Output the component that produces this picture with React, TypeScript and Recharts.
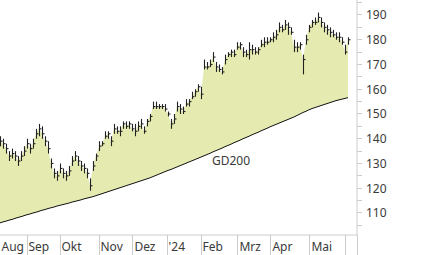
import { ComposedChart, Area, Line, Bar, XAxis, YAxis, ReferenceDot } from "recharts";

// one point roughly every two trading days, Aug 2023 - May 2024
const closes = [
  139, 138, 136, 133, 134, 133, 131, 133, 135, 138, 136, 138, 142, 144, 142, 139, 136, 130, 126, 125,
  128, 126, 125, 127, 131, 133, 131, 129, 128, 126, 121, 129, 133, 137, 138, 141, 142, 139, 144, 143,
  143, 146, 145, 146, 144, 143, 145, 146, 143, 147, 149, 153, 153, 153, 153, 152, 150, 146, 148, 153,
  152, 151, 154, 155, 157, 159, 161, 158, 169, 169, 170, 173, 169, 168, 167, 172, 174, 175, 174, 177,
  178, 175, 174, 176, 176, 175, 176, 178, 179, 179, 180, 181, 182, 185, 184, 186, 185, 183, 177, 177,
  178, 172, 180, 185, 187, 187, 189, 187, 185, 184, 183, 182, 181, 181, 179, 175, 180,
];
const highs = [
  141, 140, 138, 135, 136, 135, 133, 135, 137, 140, 138, 140, 144, 146, 145, 141, 139, 132, 128, 127,
  130, 128, 127, 129, 133, 135, 133, 131, 130, 128, 124, 131, 134, 139, 139, 143, 143, 141, 146, 145,
  145, 147, 147, 147, 146, 146, 147, 148, 145, 148, 150, 155, 155, 154, 154, 154, 151, 148, 150, 155,
  154, 153, 156, 156, 159, 160, 162, 161, 172, 171, 172, 175, 171, 170, 169, 174, 175, 176, 176, 179,
  179, 177, 176, 179, 178, 177, 177, 180, 181, 181, 181, 183, 184, 187, 186, 188, 187, 185, 180, 179,
  179, 174, 182, 186, 188, 189, 191, 189, 187, 186, 185, 184, 183, 183, 181, 178, 181,
];
const lows = [
  137, 136, 134, 131, 132, 131, 129, 131, 133, 136, 134, 136, 140, 141, 140, 137, 134, 128, 124, 123,
  126, 124, 123, 125, 129, 131, 129, 127, 126, 124, 119, 127, 131, 135, 137, 140, 140, 137, 142, 142,
  141, 144, 144, 144, 143, 141, 143, 144, 142, 145, 147, 152, 152, 152, 152, 151, 149, 144, 146, 151,
  150, 150, 153, 153, 156, 157, 159, 156, 168, 168, 169, 171, 167, 167, 166, 170, 173, 173, 173, 176,
  176, 173, 173, 172, 174, 174, 174, 177, 177, 178, 179, 179, 180, 183, 183, 184, 182, 182, 175, 175,
  176, 166, 178, 183, 185, 186, 187, 185, 183, 182, 181, 181, 180, 179, 178, 174, 178,
];
const gd200 = [
  106.0, 106.4, 106.7, 107.1, 107.4, 107.8, 108.2, 108.5, 108.9, 109.3, 109.6, 110.0, 110.3, 110.7, 111.1, 111.4, 111.8, 112.1, 112.4, 112.8,
  113.1, 113.4, 113.7, 114.0, 114.4, 114.7, 115.0, 115.3, 115.7, 116.0, 116.3, 116.6, 117.0, 117.4, 117.8, 118.2, 118.6, 119.0, 119.4, 119.8,
  120.2, 120.6, 121.0, 121.4, 121.8, 122.2, 122.6, 123.0, 123.4, 123.8, 124.2, 124.7, 125.2, 125.7, 126.2, 126.7, 127.2, 127.6, 128.1, 128.6,
  129.1, 129.6, 130.1, 130.6, 131.1, 131.6, 132.1, 132.6, 133.1, 133.6, 134.1, 134.7, 135.2, 135.7, 136.2, 136.8, 137.3, 137.8, 138.4, 138.9,
  139.4, 140.0, 140.5, 141.0, 141.6, 142.1, 142.6, 143.2, 143.7, 144.2, 144.8, 145.3, 145.8, 146.3, 146.8, 147.3, 147.8, 148.3, 148.8, 149.4,
  150.0, 150.6, 151.1, 151.7, 152.2, 152.6, 153.0, 153.4, 153.8, 154.2, 154.6, 155.0, 155.4, 155.7, 156.0, 156.3, 156.6,
];

const monthTicks = [0, 9, 20, 33, 44.3, 55.7, 67, 79.3, 90.3, 103.3, 115.3, 119];
const monthLabels = ["Aug", "Sep", "Okt", "Nov", "Dez", "'24", "Feb", "Mrz", "Apr", "Mai", "", ""];
const priceTicks = [105, 110, 115, 120, 125, 130, 135, 140, 145, 150, 155, 160, 165, 170, 175, 180, 185, 190, 195];

const data = closes.map((c, i) => ({
  i,
  close: c,
  high: highs[i],
  low: lows[i],
  gd: gd200[i],
  band: [gd200[i], c],
  range: [lows[i], highs[i]],
}));

const font = "'Noto Sans', sans-serif";
const textColor = "#3a3a3a";
const gridColor = "#cccccc";

function MonthTick(props: any) {
  const { x, y, index } = props;
  const label = monthLabels[index] ?? "";
  return (
    <g>
      {index > 0 && <line x1={x} x2={x} y1={y} y2={y + 20} stroke={gridColor} shapeRendering="crispEdges" />}
      <text x={Math.max(x + 1.5, 1.5)} y={y + 16} fontSize={12} fontFamily={font} fill={textColor}>
        {label}
      </text>
    </g>
  );
}

function PriceTick(props: any) {
  const { x, y, payload } = props;
  const v = payload.value;
  return (
    <g>
      <line x1={x} x2={x + 5} y1={y} y2={y} stroke={gridColor} shapeRendering="crispEdges" />
      {v % 10 === 0 && (
        <text x={x + 9} y={y + 4.5} fontSize={12} fontFamily={font} fill={textColor}>
          {v}
        </text>
      )}
    </g>
  );
}

function OhlcBar(props: any) {
  const { x, y, width, height, payload } = props;
  if (height == null) return null;
  const cx = Math.round(x + width / 2) + 0.5;
  const span = payload.high - payload.low;
  const cy = y + ((payload.high - payload.close) / span) * height;
  return (
    <g stroke="#222" strokeWidth={1.1}>
      <line x1={cx} x2={cx} y1={y} y2={y + height} />
      <line x1={cx} x2={cx + 2} y1={cy} y2={cy} />
    </g>
  );
}

export default function App() {
  return (
    <div style={{ position: "absolute", left: 0, top: 0, width: 426, height: 255, background: "#fff" }}>
      <ComposedChart width={426} height={255} data={data} margin={{ top: 0, right: 0, bottom: 0, left: 0 }}>
        <XAxis
          dataKey="i"
          type="number"
          domain={[0, 119]}
          ticks={monthTicks}
          interval={0}
          height={20}
          axisLine={{ stroke: gridColor }}
          tickLine={false}
          tickSize={0}
          tickMargin={0}
          tick={<MonthTick />}
        />
        <YAxis
          orientation="right"
          type="number"
          domain={[101.1, 196.06]}
          ticks={priceTicks}
          interval={0}
          width={69}
          axisLine={{ stroke: gridColor }}
          tickLine={false}
          tickSize={0}
          tickMargin={0}
          tick={<PriceTick />}
          allowDataOverflow
        />
        <Area
          dataKey="band"
          type="linear"
          fill="#e5eab1"
          fillOpacity={1}
          stroke="none"
          dot={false}
          activeDot={false}
          isAnimationActive={false}
        />
        <Line
          dataKey="gd"
          type="linear"
          stroke="#111"
          strokeWidth={1}
          dot={false}
          activeDot={false}
          isAnimationActive={false}
        />
        <Bar dataKey="range" barSize={1} shape={<OhlcBar />} activeBar={false} isAnimationActive={false} />
        <ReferenceDot
          x={77}
          y={131}
          r={0}
          fill="none"
          stroke="none"
          label={{ value: "GD200", position: "center", fontSize: 12, fontFamily: font, fill: textColor }}
        />
      </ComposedChart>
    </div>
  );
}
